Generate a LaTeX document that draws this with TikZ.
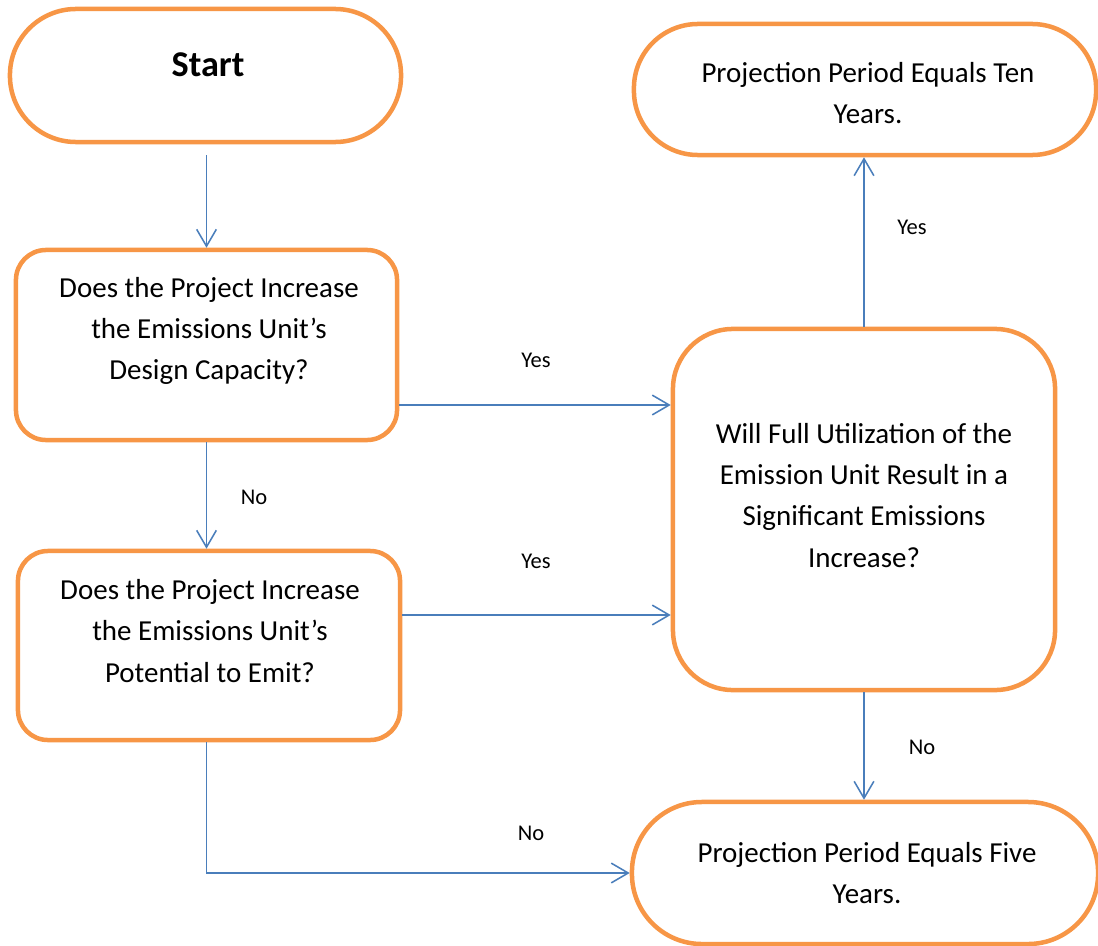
\documentclass[tikz,border=0pt]{standalone}
\usepackage{fontspec}
\setmainfont{Carlito}
\usetikzlibrary{arrows.meta}
\definecolor{boxorange}{RGB}{247,150,70}
\definecolor{lineblue}{RGB}{74,126,187}

\begin{document}
\begin{tikzpicture}[x=0.025cm, y=-0.025cm,
    box/.style={draw=boxorange, line width=3.2pt, fill=white, rectangle, inner sep=0pt},
    txt/.style={align=center, font=\fontsize{20.6}{29.2}\selectfont},
    starttxt/.style={font=\fontsize{25.8}{31}\selectfont\bfseries},
    lbl/.style={font=\fontsize{16}{19}\selectfont},
    arr/.style={draw=lineblue, line width=1.1pt, -{Straight Barb[length=12pt, width=14pt]}}]
    \useasboundingbox (0,0) rectangle (1098,946);

    % Shapes
    \node[box, rounded corners=1.65cm, minimum width=9.775cm, minimum height=3.325cm] (start) at (205.5,75.5) {};
    \node[box, rounded corners=1.6cm, minimum width=11.55cm, minimum height=3.275cm] (ten) at (865,89.5) {};
    \node[box, rounded corners=0.75cm, minimum width=9.525cm, minimum height=4.75cm] (b1) at (206.5,345) {};
    \node[box, rounded corners=0.75cm, minimum width=9.55cm, minimum height=4.725cm] (b2) at (209,645.5) {};
    \node[box, rounded corners=1.5cm, minimum width=9.55cm, minimum height=9.025cm] (big) at (864,509.5) {};
    \node[box, rounded corners=1.75cm, minimum width=11.65cm, minimum height=3.55cm] (five) at (865,873) {};

    % Texts
    \node[starttxt] (startt) at (208,65) {Start};
    \node[txt] (tent) at (868,93.5) {Projection Period Equals Ten\\Years.};
    \node[txt] (b1t) at (209,331) {Does the Project Increase\\the Emissions Unit’s\\Design Capacity?};
    \node[txt] (b2t) at (210,631) {Does the Project Increase\\the Emissions Unit’s\\Potential to Emit?};
    \node[txt] (bigt) at (864,495.5) {Will Full Utilization of the\\Emission Unit Result in a\\Significant Emissions\\Increase?};
    \node[txt] (fivet) at (867,873) {Projection Period Equals Five\\Years.};

    % Connectors
    \draw[arr, shorten <=7.8pt] (b1.north |- start.south) -- (b1.north);
    \draw[arr] (b1.south) -- (b1.south |- b2.north);
    \draw[arr] (b1.east |- 0,405) -- (big.west |- 0,405);
    \draw[arr] (b2.east |- 0,615) -- (big.west |- 0,615);
    \draw[arr] (big.north) -- (big.north |- ten.south);
    \draw[arr] (big.south) -- (big.south |- five.north);
    \draw[arr] (b1.south |- b2.south) -- (b1.south |- five.west) -- (five.west);

    % Labels
    \node[lbl] (yes1) at (536,360) {Yes};
    \node[lbl] (no1) at (254,497) {No};
    \node[lbl] (yes2) at (536,561) {Yes};
    \node[lbl] (yes3) at (912,227) {Yes};
    \node[lbl] (no2) at (922,747) {No};
    \node[lbl] (no3) at (531,833) {No};
\end{tikzpicture}
\end{document}
